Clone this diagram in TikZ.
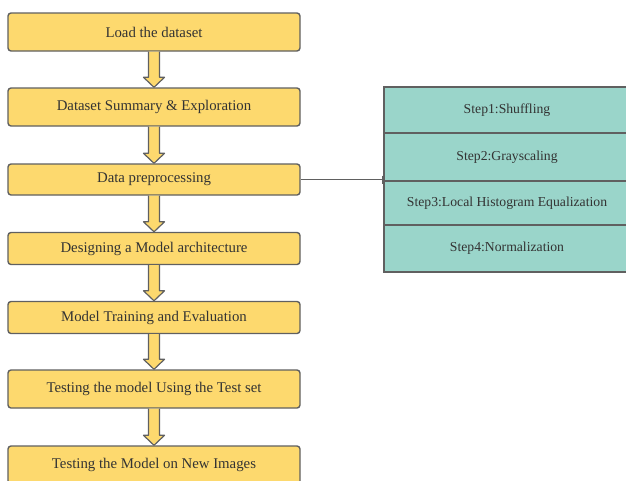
\documentclass[tikz,border=0pt]{standalone}
\usepackage{fontspec}
\setmainfont{Liberation Serif}
\usetikzlibrary{calc,arrows.meta}
\definecolor{ybox}{HTML}{FDD96E}
\definecolor{tbox}{HTML}{9AD5CA}
\definecolor{edge}{HTML}{606060}
\definecolor{txt}{HTML}{333333}
\begin{document}
\begin{tikzpicture}[x=1pt,y=-1pt,
  yellowbox/.style={draw=edge,fill=ybox,line width=1.4pt,rounded corners=3pt,
    minimum width=292pt,inner sep=0pt,text=txt,font=\fontsize{14.8}{16}\selectfont},
  tealbox/.style={draw=edge,fill=tbox,line width=1.4pt,
    minimum width=246pt,inner sep=0pt,text=txt,font=\fontsize{13.7}{15}\selectfont},
  barrow/.style={draw=edge,fill=ybox,line width=1.2pt,line join=round},
  link/.style={draw=edge,line width=1pt}]
\useasboundingbox (0,0) rectangle (626,480);
\node[yellowbox,minimum height=38pt] (b1) at (154,32) {Load the dataset};
\node[yellowbox,minimum height=38pt] (b2) at (154,107) {Dataset Summary \& Exploration};
\node[yellowbox,minimum height=31pt] (b3) at (154,179.5) {Data preprocessing};
\node[yellowbox,minimum height=32pt] (b4) at (154,248.5) {Designing a Model architecture};
\node[yellowbox,minimum height=32pt] (b5) at (154,317.5) {Model Training and Evaluation};
\node[yellowbox,minimum height=38pt] (b6) at (154,389) {Testing the model Using the Test set};
\node[yellowbox,minimum height=38pt] (b7) at (154,465) {Testing the Model on New Images};
\foreach \a/\b in {b1/b2,b2/b3,b3/b4,b4/b5,b5/b6,b6/b7}{
  \draw[barrow] let \p1=(\a.south), \p2=(\b.north) in
    (\x1-5.5pt,\y1) -- (\x1-5.5pt,\y2+10pt) -- (\x1-10.5pt,\y2+10pt) -- (\x1,\y2)
    -- (\x1+10.5pt,\y2+10pt) -- (\x1+5.5pt,\y2+10pt) -- (\x1+5.5pt,\y1);
}
\node[tealbox,minimum height=46pt] (s1) at (507,110) {Step1:Shuffling};
\node[tealbox,minimum height=48pt] (s2) at (507,157) {Step2:Grayscaling};
\node[tealbox,minimum height=44pt] (s3) at (507,203) {Step3:Local Histogram Equalization};
\node[tealbox,minimum height=47pt] (s4) at (507,248.5) {Step4:Normalization};
\coordinate (j) at (s2.south west);
\draw[link,-{Bar[width=8pt,line width=1.4pt]}] (b3.east) -- (b3.east -| j);
\end{tikzpicture}
\end{document}
